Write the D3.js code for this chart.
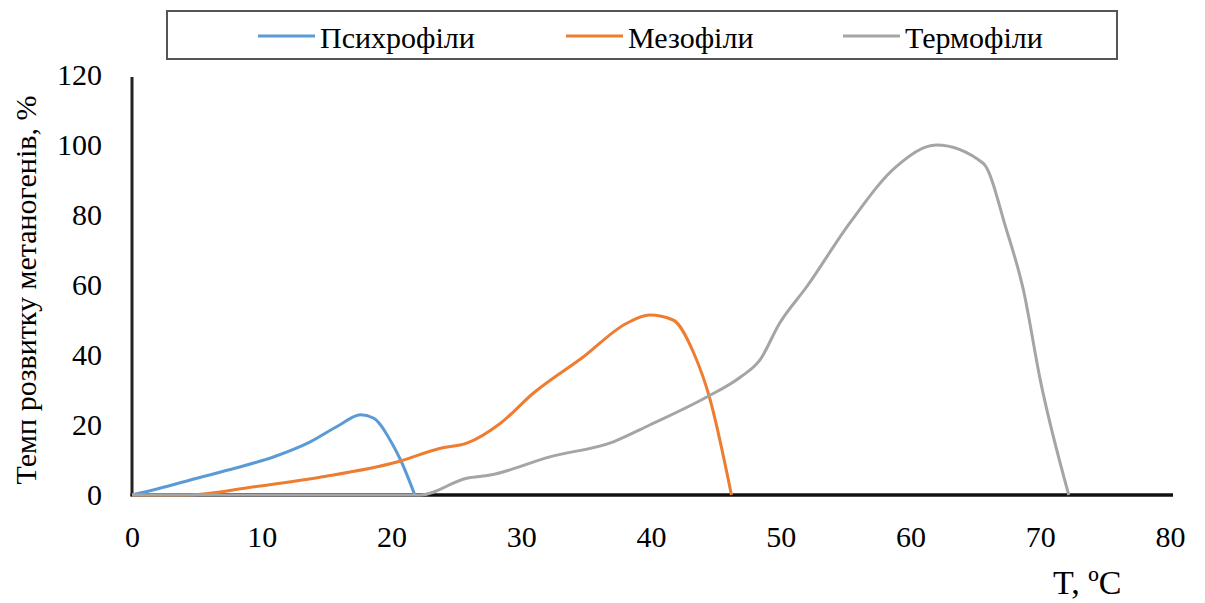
<!DOCTYPE html>
<html><head><meta charset="utf-8">
<script src="https://cdn.jsdelivr.net/npm/d3@7"></script>
<style>
body{margin:0;background:#fff;}
svg{display:block;}
svg text{font-family:"Liberation Serif","Times New Roman",Times,serif;}
</style></head>
<body><svg id="c" width="1205" height="603"></svg>
<script>
const seriesNames = ["Психрофіли", "Мезофіли", "Термофіли"];
const seriesColors = ["#5B9BD5", "#ED7D31", "#A5A5A5"];
const psychroT = [0, 2, 5, 8, 11, 13.7, 16, 17.6, 18.6, 20, 20.7, 21.8];
const psychroV = [0, 1.8, 4.8, 7.7, 11, 15.1, 20, 22.9, 22, 15, 10, 0];
const mesoT = [0, 4.2, 9.3, 14.5, 20.5, 23.7, 25.8, 28.4, 30.9, 34.8, 38.1, 39.9, 41.7, 43.3, 44.5, 46.2];
const mesoV = [0, 0, 2.3, 5.1, 9.5, 13.3, 14.8, 20.5, 29, 39.5, 49, 51.4, 50, 40.5, 28, 0];
const thermoT = [0, 22.2, 25.8, 27.6, 32.2, 37.1, 39.9, 44.3, 46.9, 48.4, 49.9, 52, 55.3, 58.9, 62, 65.6, 67.4, 68.7, 70, 72.2];
const thermoV = [0, 0, 4.8, 5.7, 10.9, 15.2, 20, 28, 33.7, 38.6, 49, 59.5, 77.6, 93.8, 100, 94.8, 75.7, 58.6, 32.9, 0];
const xTicks = [0, 10, 20, 30, 40, 50, 60, 70, 80];
const yTicks = [0, 20, 40, 60, 80, 100, 120];
const xTitle = "T, ºC";
const yTitle = "Темп розвитку метаногенів, %";

const FONT = "'Liberation Serif','Times New Roman',Times,serif";
const svg = d3.select("#c");
const x = d3.scaleLinear().domain([0, 80]).range([132, 1170]);
const y = d3.scaleLinear().domain([0, 120]).range([495, 75]);

// axes
const yAxis = d3.axisLeft(y).tickValues(yTicks).tickSize(0).tickPadding(30);
const gy = svg.append("g").attr("transform", `translate(${x(0)},0)`).call(yAxis)
  .attr("font-family", FONT).attr("font-size", 30);
gy.select(".domain").remove();
gy.selectAll("text").attr("fill", "#000");

const xAxis = d3.axisBottom(x).tickValues(xTicks).tickSize(0).tickPadding(31);
const gx = svg.append("g").attr("transform", `translate(0,${y(0)})`).call(xAxis)
  .attr("font-family", FONT).attr("font-size", 30);
gx.select(".domain").remove();
gx.selectAll("text").attr("fill", "#000");

svg.append("line").attr("x1", x(0)).attr("x2", x(0)).attr("y1", y(0) + 1).attr("y2", 77)
  .attr("stroke", "#222").attr("stroke-width", 3);
svg.append("line").attr("x1", x(0) - 1.5).attr("x2", 1173).attr("y1", y(0)).attr("y2", y(0))
  .attr("stroke", "#111").attr("stroke-width", 3.5);

// series
const data = [
  psychroT.map((t, i) => [t, psychroV[i]]),
  mesoT.map((t, i) => [t, mesoV[i]]),
  thermoT.map((t, i) => [t, thermoV[i]])
];
const line = d3.line().x(d => x(d[0])).y(d => y(d[1])).curve(d3.curveMonotoneX);
[0, 1, 2].forEach(i => {
  svg.append("path").attr("d", line(data[i])).attr("fill", "none")
    .attr("stroke", seriesColors[i]).attr("stroke-width", 3).attr("stroke-linejoin", "round");
});

// titles
svg.append("text").attr("transform", `translate(36,290) rotate(-90)`)
  .attr("text-anchor", "middle").attr("font-size", 30).attr("fill", "#000").text(yTitle);
svg.append("text").attr("x", 1053).attr("y", 594).attr("font-size", 34).attr("fill", "#000").text(xTitle);

// legend
svg.append("rect").attr("x", 167).attr("y", 11).attr("width", 950).attr("height", 48)
  .attr("fill", "#fff").attr("stroke", "#555").attr("stroke-width", 2);
const legX = [258, 566, 843];
seriesNames.forEach((n, i) => {
  svg.append("line").attr("x1", legX[i]).attr("x2", legX[i] + 57).attr("y1", 36).attr("y2", 36)
    .attr("stroke", seriesColors[i]).attr("stroke-width", 3);
  svg.append("text").attr("x", legX[i] + 62).attr("y", 48).attr("font-size", 30).attr("fill", "#000").text(n);
});
</script></body></html>
